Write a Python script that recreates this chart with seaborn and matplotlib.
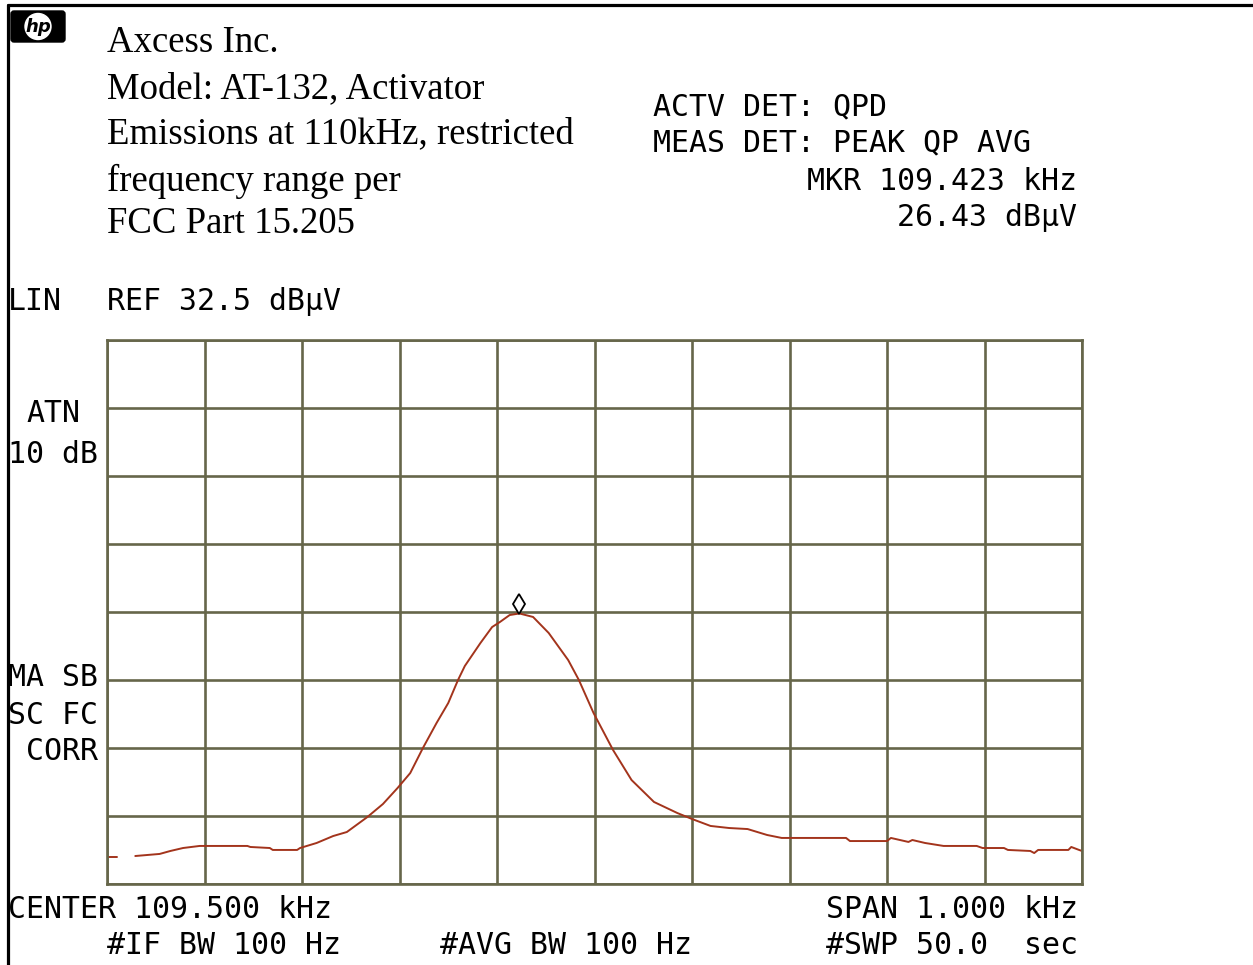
import numpy as np
import pandas as pd
import matplotlib
matplotlib.use("Agg")
import matplotlib.pyplot as plt
import matplotlib.transforms as mtransforms
from matplotlib.lines import Line2D
from matplotlib.patches import FancyBboxPatch, Circle
import seaborn as sns

# ------------------------------------------------------------- #
#                 DATOS DE LA TRAZA (LIN, µV)                    #
# ------------------------------------------------------------- #

freq_khz = [109.000, 109.010,
            109.029, 109.054, 109.065, 109.078, 109.095, 109.144, 109.147, 109.167,
            109.170, 109.195, 109.198, 109.215, 109.232, 109.246, 109.267, 109.283,
            109.298, 109.311, 109.324, 109.338, 109.350, 109.360, 109.367, 109.383,
            109.395, 109.403, 109.413, 109.423, 109.437, 109.453, 109.473, 109.484,
            109.499, 109.519, 109.538, 109.561, 109.585, 109.600, 109.619, 109.638,
            109.657, 109.677, 109.692, 109.758, 109.762, 109.800, 109.804, 109.822,
            109.826, 109.839, 109.858, 109.892, 109.898, 109.920, 109.924, 109.947,
            109.951, 109.955, 109.986, 109.989, 109.997, 110.000]
amp_uv = [2.09, 2.09,
          2.17, 2.33, 2.56, 2.79, 2.95, 2.95, 2.87, 2.79,
          2.64, 2.64, 2.79, 3.18, 3.72, 4.03, 5.19, 6.20,
          7.44, 8.60, 10.54, 12.48, 14.03, 15.81, 16.90, 18.68,
          19.92, 20.31, 20.85, 20.97, 20.70, 19.46, 17.36, 15.81,
          13.26, 10.39, 8.06, 6.36, 5.50, 5.04, 4.50, 4.34,
          4.26, 3.80, 3.57, 3.57, 3.33, 3.33, 3.57, 3.26,
          3.41, 3.18, 2.95, 2.95, 2.79, 2.79, 2.64, 2.56,
          2.40, 2.64, 2.64, 2.87, 2.64, 2.56]
# la traza tiene un pequeño hueco al principio
segment = [0, 0] + [1] * (len(freq_khz) - 2)

# Parámetros del analizador
center_khz = 109.500
span_khz = 1.000
ref_dbuv = 32.5
mkr_khz = 109.423
mkr_dbuv = 26.43

ref_uv = 10 ** (ref_dbuv / 20)
mkr_uv = 10 ** (mkr_dbuv / 20)

trace = pd.DataFrame({"freq": freq_khz, "amp": amp_uv, "seg": segment})

# ------------------------------------------------------------- #
#                            GRÁFICO                            #
# ------------------------------------------------------------- #

sns.set_style("white")
plt.rcParams["font.family"] = ["DejaVu Sans Mono", "DejaVu Sans"]

W, H = 1253, 965
fig = plt.figure(figsize=(W / 100, H / 100), dpi=100)

def fx(px):
    return px / W

def fy(py):
    return 1 - py / H

ax = fig.add_axes([fx(107), fy(884), fx(1082) - fx(107), fy(340) - fy(884)])

grid_color = "#66664a"
sns.lineplot(data=trace, x="freq", y="amp", units="seg", estimator=None,
             sort=False, color="#a3341c", linewidth=1.4, ax=ax)

# marcador (rombo) sobre el pico
mk_trans = mtransforms.offset_copy(ax.transData, fig=fig, x=0, y=7, units="points")
ax.plot([mkr_khz], [mkr_uv], marker="d", markersize=10, markerfacecolor="white",
        markeredgecolor="black", markeredgewidth=1.3, transform=mk_trans, clip_on=False)

f0 = center_khz - span_khz / 2
f1 = center_khz + span_khz / 2
ax.set_xlim(f0, f1)
ax.set_ylim(0, ref_uv)
ax.set_xticks(np.linspace(f0, f1, 11))
ax.set_yticks(np.linspace(0, ref_uv, 9))
ax.tick_params(length=0, labelbottom=False, labelleft=False)
ax.grid(True, color=grid_color, linewidth=1.9)
ax.set_axisbelow(True)
for s in ax.spines.values():
    s.set_color(grid_color)
    s.set_linewidth(1.9)
ax.set_xlabel("")
ax.set_ylabel("")

# Texto de cabecera (serif)
header = ["Axcess Inc.", "Model: AT-132, Activator", "Emissions at 110kHz, restricted",
          "frequency range per", "FCC Part 15.205"]
header_y = [43, 89, 134, 181, 224]
for txt, yy in zip(header, header_y):
    fig.text(fx(107), fy(yy), txt, family="Liberation Serif", fontsize=26.5,
             va="center", ha="left", color="black")

# Textos del instrumento (monoespaciado)
mono = dict(family=["DejaVu Sans Mono"], fontsize=21.5, va="center", color="black")
fig.text(fx(653), fy(107), "ACTV DET: QPD", ha="left", **mono)
fig.text(fx(653), fy(143), "MEAS DET: PEAK QP AVG", ha="left", **mono)
fig.text(fx(1077), fy(182), f"MKR {mkr_khz:.3f} kHz", ha="right", **mono)
fig.text(fx(1077), fy(218), f"{mkr_dbuv:.2f} dBµV", ha="right", **mono)
fig.text(fx(8), fy(301), "LIN", ha="left", **mono)
fig.text(fx(107), fy(301), f"REF {ref_dbuv} dBµV", ha="left", **mono)
fig.text(fx(26), fy(414), "ATN", ha="left", **mono)
fig.text(fx(8), fy(454), "10 dB", ha="left", **mono)
fig.text(fx(8), fy(678), "MA SB", ha="left", **mono)
fig.text(fx(8), fy(715), "SC FC", ha="left", **mono)
fig.text(fx(26), fy(751), "CORR", ha="left", **mono)
fig.text(fx(8), fy(909), f"CENTER {center_khz:.3f} kHz", ha="left", **mono)
fig.text(fx(107), fy(946), "#IF BW 100 Hz", ha="left", **mono)
fig.text(fx(440), fy(946), "#AVG BW 100 Hz", ha="left", **mono)
fig.text(fx(826), fy(909), f"SPAN {span_khz:.3f} kHz", ha="left", **mono)
fig.text(fx(826), fy(946), "#SWP 50.0  sec", ha="left", **mono)

# Borde superior e izquierdo
fig.add_artist(Line2D([fx(8), 1], [fy(5), fy(5)], color="black", linewidth=2.3))
fig.add_artist(Line2D([fx(8), fx(8)], [fy(5), 0], color="black", linewidth=2.3))

# Logo hp
logo = fig.add_axes([fx(10), fy(43), fx(66) - fx(10), fy(10) - fy(43)])
logo.set_xlim(0, 56)
logo.set_ylim(0, 33)
logo.axis("off")
logo.add_patch(FancyBboxPatch((1, 1), 54, 31, boxstyle="round,pad=0,rounding_size=3",
                              facecolor="black", edgecolor="black"))
logo.add_patch(Circle((28, 16.5), 13, facecolor="white", edgecolor="white"))
logo.text(28, 16, "hp", family="DejaVu Sans", fontsize=13, fontstyle="italic",
          fontweight="bold", ha="center", va="center", color="black")

plt.savefig("out.png", dpi=100)
